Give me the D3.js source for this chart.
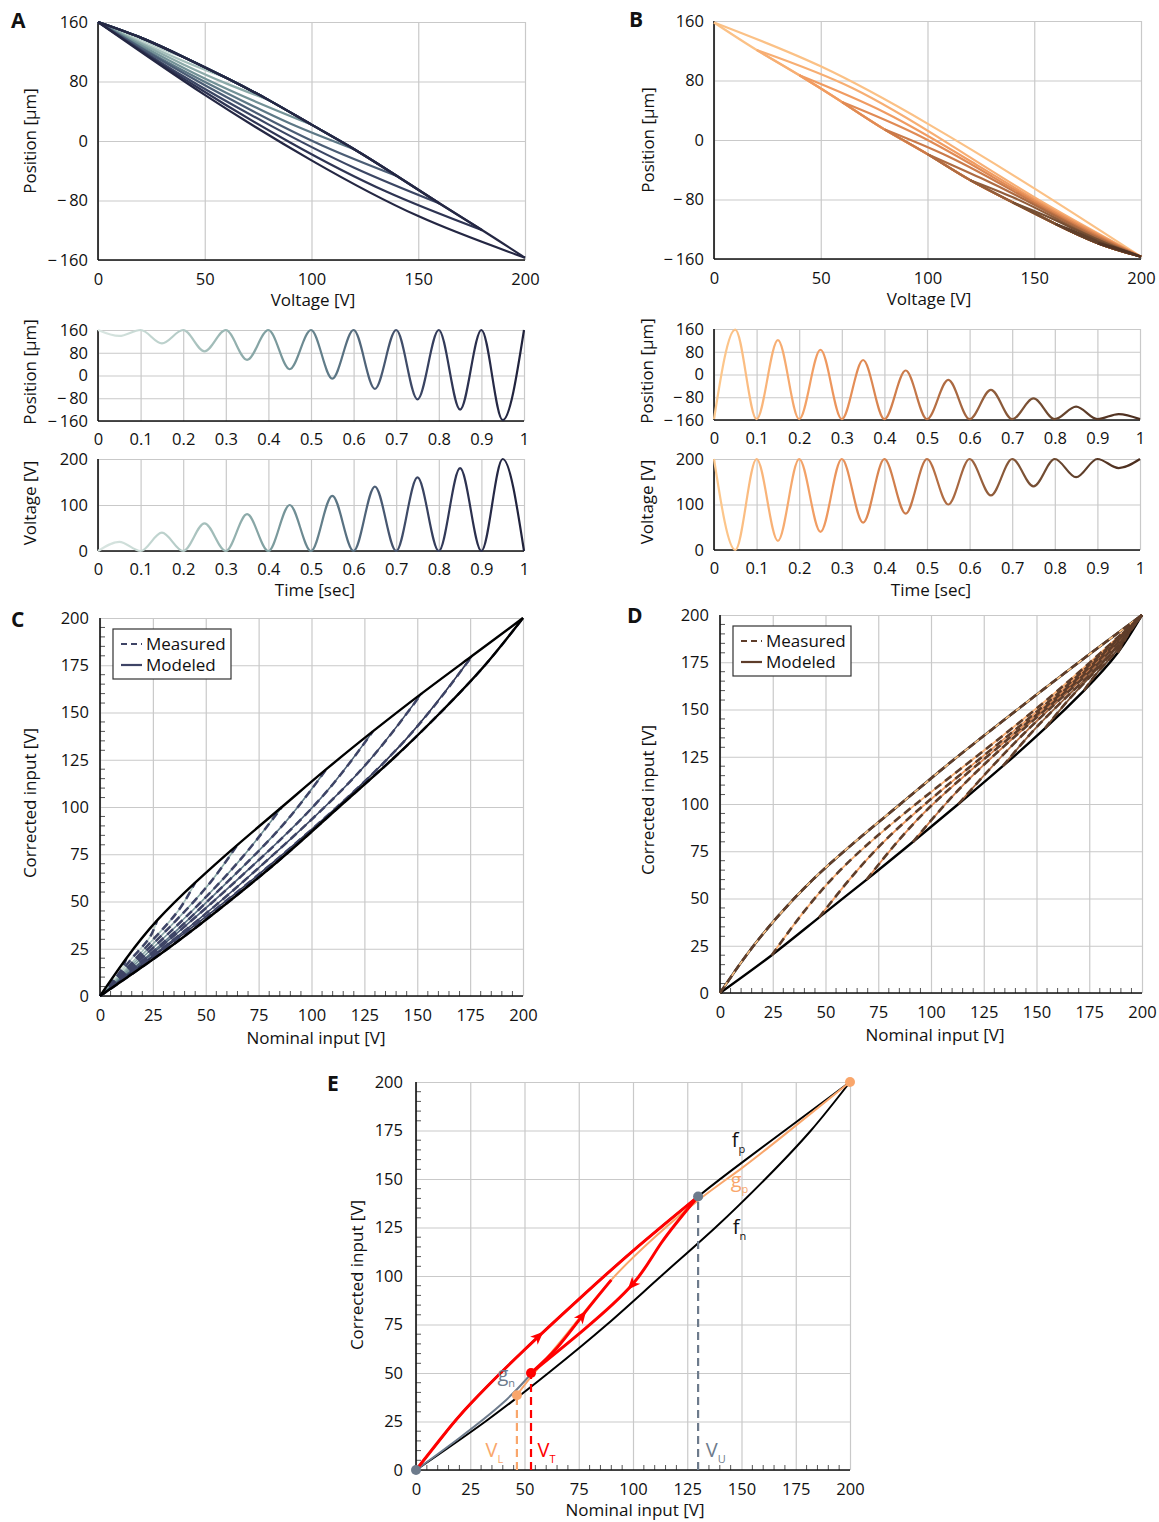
<!DOCTYPE html>
<html>
<head>
<meta charset="utf-8">
<script src="https://cdn.jsdelivr.net/npm/d3@7"></script>
<style>
  body { margin: 0; background: #fff; }
  svg text { font-family: "Open Sans", "Noto Sans", sans-serif; }
</style>
</head>
<body>
<svg id="fig" width="1159" height="1522"></svg>
<script>
// ---------------- Data ----------------
// Panel A: cycles of growing amplitude starting at 0 V
const ampA = [20, 40, 60, 80, 100, 120, 140, 160, 180, 200];
const ascVoltA = [0, 20, 40, 60, 80, 100, 120, 140, 160, 180, 200];
const ascPosA = [160, 139, 113, 85, 55, 22, -11, -47, -84, -120, -157];   // common rising branch
const descA = [                                                       // falling branches, turning point first
  [[20, 139], [15, 143], [10, 148], [5, 153.5], [0, 160]],
  [[40, 113], [30, 123.5], [20, 136], [10, 147], [0, 160]],
  [[60, 85], [45, 101.5], [30, 120], [15, 139.5], [0, 160]],
  [[80, 55], [60, 77.5], [40, 103], [20, 131], [0, 160]],
  [[100, 22], [75, 51.5], [50, 84], [25, 121], [0, 160]],
  [[120, -11], [90, 23.5], [60, 65], [30, 110], [0, 160]],
  [[140, -47], [105, -6], [70, 44], [35, 99.5], [0, 160]],
  [[160, -84], [120, -36], [80, 22], [40, 87], [0, 160]],
  [[180, -120], [135, -68], [90, -2], [45, 75], [0, 160]],
  [[200, -157], [150, -101], [100, -26], [50, 62], [0, 160]]
];

// Panel B: cycles from 200 V down to a rising minimum
const minB = [0, 20, 40, 60, 80, 100, 120, 140, 160, 180];
const descVoltB = [0, 20, 40, 60, 80, 100, 120, 140, 160, 180, 200];
const descPosB = [158, 121, 87, 51, 14, -19, -54, -84, -113, -139, -157]; // common falling branch
const ascB = [                                                         // rising branches back to 200 V
  [[0, 158], [50, 99], [100, 22], [150, -65], [200, -157]],
  [[20, 121], [65, 69.6], [110, -5.2], [155, -85.35], [200, -157]],
  [[40, 87], [80, 37], [120, -28.2], [160, -96.2], [200, -157]],
  [[60, 51], [95, 7.25], [130, -48.8], [165, -106.3], [200, -157]],
  [[80, 14], [110, -22.6], [140, -68.4], [170, -115.8], [200, -157]],
  [[100, -19], [125, -51.25], [150, -87], [175, -125], [200, -157]],
  [[120, -54], [140, -77], [160, -105.2], [180, -133.9], [200, -157]],
  [[140, -84], [155, -101.65], [170, -121.4], [185, -140.5], [200, -157]],
  [[160, -113], [170, -123.95], [180, -136.7], [190, -146.5], [200, -157]],
  [[180, -139], [185, -142.7], [190, -146.9], [195, -151.8], [200, -157]]
];

// Time traces (extrema every half period)
const tKnots = [0, 0.05, 0.1, 0.15, 0.2, 0.25, 0.3, 0.35, 0.4, 0.45, 0.5, 0.55, 0.6, 0.65, 0.7, 0.75, 0.8, 0.85, 0.9, 0.95, 1];
const posTimeA = [160, 139, 160, 113, 160, 85, 160, 55, 160, 22, 160, -11, 160, -47, 160, -84, 160, -120, 160, -157, 160];
const voltTimeA = [0, 20, 0, 40, 0, 60, 0, 80, 0, 100, 0, 120, 0, 140, 0, 160, 0, 180, 0, 200, 0];
const posTimeB = [-157, 158, -157, 121, -157, 87, -157, 51, -157, 14, -157, -19, -157, -54, -157, -84, -157, -113, -157, -139, -157];
const voltTimeB = [200, 0, 200, 20, 200, 40, 200, 60, 200, 80, 200, 100, 200, 120, 200, 140, 200, 160, 200, 180, 200];

// Panel C: corrected vs nominal input, growing amplitude
const cUpper = [[0, 0], [12.5, 20], [27, 40], [45, 60], [65, 80], [86, 100], [107, 120], [129, 140], [152, 160], [176, 180], [200, 200]];
const cLower = [[0, 0], [32, 25], [61, 50], [88, 75], [113, 100], [138, 125], [161, 150], [182, 175], [200, 200]];
const cFalling = [
  [[12.5, 20], [10.7, 15], [7.6, 10], [4.1, 5], [0, 0]],
  [[27, 40], [22.9, 30], [15.1, 20], [8.2, 10], [0, 0]],
  [[45, 60], [36.9, 45], [25.2, 30], [12.9, 15], [0, 0]],
  [[65, 80], [52.1, 60], [36, 40], [18.3, 20], [0, 0]],
  [[86, 100], [68.5, 75], [48, 50], [24.6, 25], [0, 0]],
  [[107, 120], [86.1, 90], [59.9, 60], [31.6, 30], [0, 0]],
  [[129, 140], [104.7, 105], [73.2, 70], [38.2, 35], [0, 0]],
  [[152, 160], [123.7, 120], [87.1, 80], [46.1, 40], [0, 0]],
  [[176, 180], [144, 135], [102, 90], [53.6, 45], [0, 0]],
  [[200, 200], [182, 175], [161, 150], [138, 125], [113, 100], [88, 75], [61, 50], [32, 25], [0, 0]]
];

// Panel D: corrected vs nominal input, shrinking amplitude
const dUpper = [[0, 0], [12.5, 20], [27, 40], [44, 60], [64, 80], [85.5, 100], [107, 120], [129.5, 140], [152.5, 160], [176, 180], [200, 200]];
const dLower = [[0, 0], [24.5, 20], [47, 40], [69.5, 60], [91.5, 80], [113, 100], [134, 120], [154, 140], [172.5, 160], [188.5, 180], [200, 200]];
const dRising = [
  [[0, 0], [12.5, 20], [27, 40], [44, 60], [64, 80], [85.5, 100], [107, 120], [129.5, 140], [152.5, 160], [176, 180], [200, 200]],
  [[24.5, 20], [57, 65], [104.2, 110], [154.8, 155], [200, 200]],
  [[47, 40], [77.6, 80], [118.8, 120], [161.7, 160], [200, 200]],
  [[69.5, 60], [96.4, 95], [131.8, 130], [168, 165], [200, 200]],
  [[91.5, 80], [115.2, 110], [144.1, 140], [174, 170], [200, 200]],
  [[113, 100], [133.3, 125], [155.9, 150], [179.8, 175], [200, 200]],
  [[134, 120], [149.5, 140], [167.4, 160], [185.5, 180], [200, 200]],
  [[154, 140], [165.1, 155], [177.6, 170], [189.6, 185], [200, 200]],
  [[172.5, 160], [179.2, 170], [187.2, 180], [193.4, 190], [200, 200]],
  [[188.5, 180], [191, 185], [193.6, 190], [196.7, 195], [200, 200]]
];

// Panel E: switching between the bounding curves
const eUpper = [[0, 0], [12, 17], [25, 34], [50, 62], [75, 88], [100, 113], [130, 141], [152, 160], [176, 180], [200, 200]];
const eLower = [[0, 0], [32, 25], [61, 50], [88, 75], [113, 100], [138, 125], [161, 150], [182, 175], [200, 200]];
const eGn = [[0, 0], [20, 16.5], [40, 34.5], [53, 49.5]];
const eGp = [[46.5, 38.5], [53, 48], [70, 71], [90, 98], [110, 120], [130, 139], [150, 155.5], [170, 173], [200, 200]];
const eRedUp = [[0, 0], [12, 17], [25, 34], [50, 62], [75, 88], [100, 113], [130, 141]];
const eRedDown = [[130, 141], [113, 117], [100, 96], [77, 72], [53, 50]];
const eRedBack = [[53, 50], [65, 63], [77, 80], [90, 98]];
const eVL = [46.5, 38.5], eVT = [53, 50], eVU = [130, 141];

// Tick values
const voltTicks = [0, 50, 100, 150, 200];
const posTicks = [-160, -80, 0, 80, 160];
const timeTicks = [0, 0.1, 0.2, 0.3, 0.4, 0.5, 0.6, 0.7, 0.8, 0.9, 1];
const voltTimeTicks = [0, 100, 200];
const inputTicks = [0, 25, 50, 75, 100, 125, 150, 175, 200];
const minorTicks = [5, 10, 15, 20, 30, 35, 40, 45, 55, 60, 65, 70, 80, 85, 90, 95, 105, 110, 115, 120, 130, 135, 140, 145, 155, 160, 165, 170, 180, 185, 190, 195];

// ---------------- Drawing ----------------
const FONT = '"Open Sans", "Noto Sans", sans-serif';
const TICK_SIZE = 16.5, TITLE_SIZE = 17;
const svg = d3.select("#fig");
const minusFmt = v => v < 0 ? "\u2212\u2009" + Math.abs(v) : String(v);
const timeFmt = v => (v === 0 || v === 1) ? String(v) : v.toFixed(1);

const colA = d3.interpolateRgbBasis(["#dae6e2", "#c0d4cf", "#9dbab6", "#77989a", "#587382", "#404b6a", "#2c3151", "#20223b"]);
const colB = d3.interpolateRgbBasis(["#fdca8f", "#f9b478", "#f29a60", "#dd8650", "#bd7245", "#98603d", "#765034", "#5b3b28", "#4b2e1f"]);

function frame(g, x, y, o) {
  const [left, right] = x.range();
  const [bottom, top] = y.range();
  g.append("g").attr("transform", `translate(0,${bottom})`)
    .call(d3.axisBottom(x).tickValues(o.xTicks).tickSize(-(bottom - top)).tickFormat(""))
    .call(s => s.select(".domain").remove())
    .call(s => s.selectAll("line").attr("stroke", "#c9c9c9").attr("stroke-width", 1.2));
  g.append("g").attr("transform", `translate(${left},0)`)
    .call(d3.axisLeft(y).tickValues(o.yTicks).tickSize(-(right - left)).tickFormat(""))
    .call(s => s.select(".domain").remove())
    .call(s => s.selectAll("line").attr("stroke", "#c9c9c9").attr("stroke-width", 1.2));
  if (o.minor) {
    g.append("g").selectAll("line").data(o.minor).join("line")
      .attr("x1", d => x(d)).attr("x2", d => x(d)).attr("y1", bottom).attr("y2", bottom - 5)
      .attr("stroke", "#555").attr("stroke-width", 1);
    g.append("g").selectAll("line").data(o.minor).join("line")
      .attr("y1", d => y(d)).attr("y2", d => y(d)).attr("x1", left).attr("x2", left + 5)
      .attr("stroke", "#555").attr("stroke-width", 1);
  }
  g.append("line").attr("x1", left).attr("x2", right).attr("y1", bottom).attr("y2", bottom)
    .attr("stroke", "#111").attr("stroke-width", 1.6);
  g.append("line").attr("x1", left).attr("x2", left).attr("y1", top).attr("y2", bottom)
    .attr("stroke", "#111").attr("stroke-width", 1.6);
  g.append("g").attr("transform", `translate(0,${bottom})`)
    .call(d3.axisBottom(x).tickValues(o.xTicks).tickSize(0).tickPadding(o.padX || 13).tickFormat(o.fx))
    .call(s => s.select(".domain").remove())
    .call(s => s.selectAll("text").attr("font-size", TICK_SIZE).attr("font-family", FONT).attr("fill", "#111"));
  g.append("g").attr("transform", `translate(${left},0)`)
    .call(d3.axisLeft(y).tickValues(o.yTicks).tickSize(0).tickPadding(o.padY || 10).tickFormat(o.fy))
    .call(s => s.select(".domain").remove())
    .call(s => s.selectAll("text").attr("font-size", TICK_SIZE).attr("font-family", FONT).attr("fill", "#111"));
}

function xTitle(g, text, cx, cy) {
  g.append("text").attr("x", cx).attr("y", cy).attr("text-anchor", "middle")
    .attr("font-size", TITLE_SIZE).attr("fill", "#111").text(text);
}
function yTitle(g, text, cx, cy) {
  g.append("text").attr("transform", `translate(${cx},${cy}) rotate(-90)`).attr("text-anchor", "middle")
    .attr("dy", "0.35em").attr("font-size", TITLE_SIZE).attr("fill", "#111").text(text);
}
function panelLetter(text, x, y) {
  svg.append("text").attr("x", x).attr("y", y).attr("font-size", 21).attr("font-weight", 700)
    .attr("fill", "#111").text(text);
}
// smooth branch through the read points
function lineOf(x, y) {
  return d3.line().x(d => x(d[0])).y(d => y(d[1])).curve(d3.curveNatural);
}
// sinusoid-like trace through alternating extrema
function traceOf(x, y) {
  return d3.line().x(d => x(d[0])).y(d => y(d[1])).curve(d3.curveMonotoneX);
}
const sorted = pts => pts.slice().sort((a, b) => a[0] - b[0]);

// ---- Panel A (loops) ----
{
  const g = svg.append("g");
  const x = d3.scaleLinear().domain([0, 200]).range([98, 525]);
  const y = d3.scaleLinear().domain([-160, 160]).range([260, 22]);
  frame(g, x, y, { xTicks: voltTicks, yTicks: posTicks, fx: d => d, fy: minusFmt });
  const ln = lineOf(x, y);
  ampA.forEach((amp, i) => {
    const c = colA(0.05 + 0.1 * i);
    const asc = ascVoltA.map((v, j) => [v, ascPosA[j]]).filter(d => d[0] <= amp);
    g.append("path").attr("d", ln(sorted(descA[i]))).attr("fill", "none").attr("stroke", c).attr("stroke-width", 2.2);
    g.append("path").attr("d", ln(asc)).attr("fill", "none").attr("stroke", c).attr("stroke-width", 2.2);
  });
  xTitle(g, "Voltage [V]", 313, 306);
  yTitle(g, "Position [\u00b5m]", 30, 141);
  panelLetter("A", 11, 28);
}

// ---- Panel B (loops) ----
{
  const g = svg.append("g");
  const x = d3.scaleLinear().domain([0, 200]).range([714, 1141]);
  const y = d3.scaleLinear().domain([-160, 160]).range([259, 21]);
  frame(g, x, y, { xTicks: voltTicks, yTicks: posTicks, fx: d => d, fy: minusFmt });
  const ln = lineOf(x, y);
  minB.forEach((m, i) => {
    const c = colB(0.05 + 0.1 * i);
    const desc = descVoltB.map((v, j) => [v, descPosB[j]]).filter(d => d[0] >= m);
    g.append("path").attr("d", ln(desc)).attr("fill", "none").attr("stroke", c).attr("stroke-width", 2.2);
    g.append("path").attr("d", ln(ascB[i])).attr("fill", "none").attr("stroke", c).attr("stroke-width", 2.2);
  });
  xTitle(g, "Voltage [V]", 929, 305);
  yTitle(g, "Position [\u00b5m]", 648, 140);
  panelLetter("B", 629, 27);
}

// ---- Time traces ----
function timeTrace(g, x, y, values, colour, gid) {
  const [x0, x1] = x.range();
  const grad = svg.append("defs").append("linearGradient").attr("id", gid)
    .attr("gradientUnits", "userSpaceOnUse").attr("x1", x0).attr("x2", x1).attr("y1", 0).attr("y2", 0);
  d3.range(0, 1.0001, 0.05).forEach(f => grad.append("stop").attr("offset", f).attr("stop-color", colour(f)));
  const pts = tKnots.map((t, i) => [t, values[i]]);
  g.append("path").attr("d", traceOf(x, y)(pts)).attr("fill", "none")
    .attr("stroke", `url(#${gid})`).attr("stroke-width", 2.2);
}
{
  const g = svg.append("g");
  const x = d3.scaleLinear().domain([0, 1]).range([98, 524]);
  const yP = d3.scaleLinear().domain([-160, 160]).range([421, 330]);
  const yV = d3.scaleLinear().domain([0, 200]).range([551, 459]);
  frame(g, x, yP, { xTicks: timeTicks, yTicks: posTicks, fx: timeFmt, fy: minusFmt, padX: 12 });
  frame(g, x, yV, { xTicks: timeTicks, yTicks: voltTimeTicks, fx: timeFmt, fy: d => d, padX: 12 });
  timeTrace(g, x, yP, posTimeA, colA, "gradPA");
  timeTrace(g, x, yV, voltTimeA, colA, "gradVA");
  yTitle(g, "Position [\u00b5m]", 30, 372);
  yTitle(g, "Voltage [V]", 30, 503);
  xTitle(g, "Time [sec]", 315, 596);
}
{
  const g = svg.append("g");
  const x = d3.scaleLinear().domain([0, 1]).range([714, 1140]);
  const yP = d3.scaleLinear().domain([-160, 160]).range([420, 329]);
  const yV = d3.scaleLinear().domain([0, 200]).range([550, 459]);
  frame(g, x, yP, { xTicks: timeTicks, yTicks: posTicks, fx: timeFmt, fy: minusFmt, padX: 12 });
  frame(g, x, yV, { xTicks: timeTicks, yTicks: voltTimeTicks, fx: timeFmt, fy: d => d, padX: 12 });
  timeTrace(g, x, yP, posTimeB, colB, "gradPB");
  timeTrace(g, x, yV, voltTimeB, colB, "gradVB");
  yTitle(g, "Position [\u00b5m]", 647, 371);
  yTitle(g, "Voltage [V]", 647, 502);
  xTitle(g, "Time [sec]", 931, 596);
}

// ---- Legend ----
function legend(g, x0, y0, colour) {
  g.append("rect").attr("x", x0).attr("y", y0).attr("width", 118).attr("height", 50)
    .attr("fill", "#fff").attr("stroke", "#333").attr("stroke-width", 1.2);
  g.append("line").attr("x1", x0 + 8).attr("x2", x0 + 29).attr("y1", y0 + 15).attr("y2", y0 + 15)
    .attr("stroke", colour).attr("stroke-width", 2.2).attr("stroke-dasharray", "6,4");
  g.append("line").attr("x1", x0 + 8).attr("x2", x0 + 29).attr("y1", y0 + 36).attr("y2", y0 + 36)
    .attr("stroke", colour).attr("stroke-width", 2.2);
  g.append("text").attr("x", x0 + 33).attr("y", y0 + 21).attr("font-size", TITLE_SIZE).attr("fill", "#111").text("Measured");
  g.append("text").attr("x", x0 + 33).attr("y", y0 + 42).attr("font-size", TITLE_SIZE).attr("fill", "#111").text("Modeled");
}

// ---- Panel C ----
{
  const g = svg.append("g");
  const x = d3.scaleLinear().domain([0, 200]).range([100, 523]);
  const y = d3.scaleLinear().domain([0, 200]).range([996, 618]);
  frame(g, x, y, { xTicks: inputTicks, yTicks: inputTicks, fx: d => d, fy: d => d, minor: minorTicks, padY: 11 });
  const ln = lineOf(x, y);
  const measured = "#3e4466";
  cFalling.forEach((br, i) => {
    g.append("path").attr("d", ln(sorted(br))).attr("fill", "none")
      .attr("stroke", colA(0.05 + 0.1 * i)).attr("stroke-width", 1.6);
  });
  cFalling.forEach(br => {
    g.append("path").attr("d", ln(sorted(br))).attr("fill", "none")
      .attr("stroke", measured).attr("stroke-width", 2.5).attr("stroke-dasharray", "8,5");
  });
  [cUpper, cLower].forEach(c => g.append("path").attr("d", ln(c)).attr("fill", "none")
    .attr("stroke", "#000").attr("stroke-width", 2.4));
  legend(g, 113, 629, measured);
  xTitle(g, "Nominal input [V]", 316, 1044);
  yTitle(g, "Corrected input [V]", 30, 803);
  panelLetter("C", 11, 627);
}

// ---- Panel D ----
{
  const g = svg.append("g");
  const x = d3.scaleLinear().domain([0, 200]).range([720, 1142]);
  const y = d3.scaleLinear().domain([0, 200]).range([993, 615]);
  frame(g, x, y, { xTicks: inputTicks, yTicks: inputTicks, fx: d => d, fy: d => d, minor: minorTicks, padY: 11 });
  const ln = lineOf(x, y);
  const measured = "#5e3d2a";
  [dUpper, dLower].forEach(c => g.append("path").attr("d", ln(c)).attr("fill", "none")
    .attr("stroke", "#000").attr("stroke-width", 2.4));
  dRising.forEach((br, i) => {
    g.append("path").attr("d", ln(br)).attr("fill", "none")
      .attr("stroke", colB(0.05 + 0.1 * i)).attr("stroke-width", 1.8);
  });
  dRising.forEach(br => {
    g.append("path").attr("d", ln(br)).attr("fill", "none")
      .attr("stroke", measured).attr("stroke-width", 2.6).attr("stroke-dasharray", "8,5");
  });
  legend(g, 733, 626, measured);
  xTitle(g, "Nominal input [V]", 935, 1041);
  yTitle(g, "Corrected input [V]", 648, 800);
  panelLetter("D", 627, 623);
}

// ---- Panel E ----
{
  const g = svg.append("g");
  const x = d3.scaleLinear().domain([0, 200]).range([416, 850]);
  const y = d3.scaleLinear().domain([0, 200]).range([1470, 1082]);
  frame(g, x, y, { xTicks: inputTicks, yTicks: inputTicks, fx: d => d, fy: d => d, minor: minorTicks, padY: 13 });
  const ln = lineOf(x, y);
  const red = "#ff0000", grey = "#6d7b8c", orange = "#f9a66b";
  [eLower, eUpper].forEach(c => g.append("path").attr("d", ln(c)).attr("fill", "none")
    .attr("stroke", "#000").attr("stroke-width", 2));
  g.append("path").attr("d", ln(eGn)).attr("fill", "none").attr("stroke", grey).attr("stroke-width", 2);
  g.append("path").attr("d", ln(eGp)).attr("fill", "none").attr("stroke", orange).attr("stroke-width", 2);

  // dashed drops to the nominal axis
  [[eVL, orange], [eVT, red], [eVU, grey]].forEach(([p, c]) => {
    g.append("line").attr("x1", x(p[0])).attr("x2", x(p[0])).attr("y1", y(0)).attr("y2", y(p[1]))
      .attr("stroke", c).attr("stroke-width", 2.2).attr("stroke-dasharray", "8,5");
  });

  const up = g.append("path").attr("d", ln(eRedUp)).attr("fill", "none").attr("stroke", red).attr("stroke-width", 3);
  const down = g.append("path").attr("d", ln(sorted(eRedDown))).attr("fill", "none").attr("stroke", red).attr("stroke-width", 3);
  const back = g.append("path").attr("d", ln(eRedBack)).attr("fill", "none").attr("stroke", red).attr("stroke-width", 3);
  function arrowOn(node, frac, reverse) {
    const L = node.getTotalLength();
    const p = node.getPointAtLength(L * frac);
    const q = node.getPointAtLength(L * frac + (reverse ? -2 : 2));
    const a = Math.atan2(q.y - p.y, q.x - p.x) * 180 / Math.PI;
    g.append("path").attr("d", "M7,0 L-6,-5.5 L-2.5,0 L-6,5.5 Z")
      .attr("transform", `translate(${p.x},${p.y}) rotate(${a})`).attr("fill", red);
  }
  arrowOn(up.node(), 0.46, false);
  arrowOn(back.node(), 0.62, false);
  arrowOn(down.node(), 0.55, true);

  // points
  [[[0, 0], grey], [eVU, grey], [[200, 200], orange], [eVL, orange], [eVT, red]].forEach(([p, c]) => {
    g.append("circle").attr("cx", x(p[0])).attr("cy", y(p[1])).attr("r", 5).attr("fill", c);
  });

  function subLabel(px, py, main, sub, colour) {
    const t = g.append("text").attr("x", x(px)).attr("y", y(py)).attr("fill", colour).attr("font-size", 20);
    t.append("tspan").text(main);
    t.append("tspan").attr("font-size", 11).attr("dy", 6).text(sub);
  }
  subLabel(145.5, 166.5, "f", "p", "#111");
  subLabel(145, 146, "g", "p", orange);
  subLabel(146, 121.5, "f", "n", "#111");
  subLabel(37.5, 46, "g", "n", grey);
  subLabel(32, 6.5, "V", "L", orange);
  subLabel(56, 6.5, "V", "T", red);
  subLabel(133.5, 6.5, "V", "U", grey);

  xTitle(g, "Nominal input [V]", 635, 1516);
  yTitle(g, "Corrected input [V]", 357, 1275);
  panelLetter("E", 327, 1091);
}
</script>
</body>
</html>
